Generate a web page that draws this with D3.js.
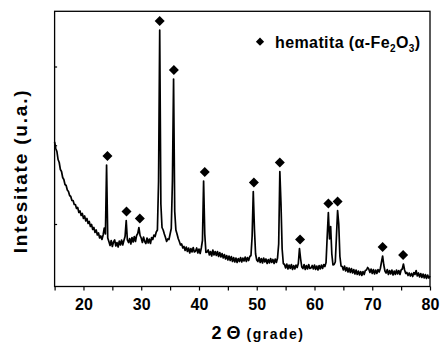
<!DOCTYPE html>
<html>
<head>
<meta charset="utf-8">
<script src="https://cdn.jsdelivr.net/npm/d3@7"></script>
<style>
  body { margin: 0; background: #fff; }
  svg { display: block; }
  text { font-family: "Liberation Sans", Arial, sans-serif; font-weight: bold; fill: #000; }
</style>
</head>
<body>
<script>
// XRD scan: intensity (a.u.) sampled every 0.2 degrees 2θ, from 15 to 80
const angleStart = 15;
const angleStep = 0.2;
const intensity = [
  578, 552, 540, 508, 496, 468, 460, 436, 428, 408,
  404, 386, 380, 364, 360, 344, 344, 328, 328, 312,
  316, 296, 302, 284, 292, 272, 282, 262, 272, 252,
  260, 240, 248, 228, 236, 216, 226, 206, 214, 194,
  202, 188, 206, 234, 210, 486, 194, 180, 164, 184,
  160, 178, 186, 162, 176, 158, 182, 166, 186, 166,
  184, 200, 264, 186, 176, 192, 170, 196, 178, 200,
  180, 204, 212, 236, 204, 194, 176, 198, 180, 172,
  194, 174, 190, 172, 196, 188, 206, 200, 218, 226,
  420, 1026, 330, 236, 226, 210, 196, 180, 190, 188,
  210, 232, 420, 830, 300, 226, 210, 192, 180, 166,
  170, 154, 160, 144, 158, 140, 154, 134, 152, 138,
  156, 138, 142, 154, 134, 150, 132, 154, 184, 422,
  210, 136, 138, 146, 126, 140, 122, 146, 126, 140,
  124, 140, 120, 136, 118, 132, 114, 128, 110, 124,
  106, 122, 104, 120, 100, 116, 98, 114, 96, 112,
  100, 116, 98, 114, 102, 118, 100, 116, 104, 120,
  124, 200, 380, 230, 130, 106, 100, 116, 96, 112,
  94, 114, 98, 110, 92, 108, 94, 112, 96, 108,
  92, 110, 96, 114, 170, 460, 330, 150, 92, 88,
  74, 90, 70, 86, 72, 88, 68, 84, 70, 86,
  76, 92, 152, 110, 78, 72, 88, 68, 84, 70,
  88, 72, 74, 84, 70, 86, 68, 82, 66, 84,
  70, 86, 72, 88, 80, 96, 200, 296, 190, 240,
  130, 86, 88, 98, 200, 304, 250, 120, 82, 80,
  66, 82, 62, 76, 58, 74, 56, 72, 54, 68,
  50, 66, 48, 62, 46, 60, 44, 60, 48, 64,
  66, 76, 70, 56, 70, 52, 68, 50, 66, 52,
  68, 58, 72, 98, 122, 86, 62, 54, 68, 48,
  64, 50, 66, 46, 62, 48, 66, 50, 64, 48,
  66, 70, 90, 66, 52, 56, 44, 54, 42, 52,
  40, 56, 48, 64, 42, 54, 38, 52, 36, 50,
  34, 48, 32, 46, 34, 42
];

// Reflections indexed to hematite (2θ positions)
const peakAngles = [24.15, 27.45, 29.75, 33.2, 35.65, 41.0, 49.5, 54.0, 57.5, 62.4, 64.0, 71.8, 75.35];

const xTicks = [15, 20, 25, 30, 35, 40, 45, 50, 55, 60, 65, 70, 75, 80];
const xTickLabels = [20, 30, 40, 50, 60, 70, 80];
const yTicks = [250, 565, 880];

const width = 441, height = 343;
const plot = { left: 54.6, right: 430, top: 11.3, bottom: 286.5 };

const svg = d3.select("body").append("svg")
  .attr("width", width).attr("height", height);

const x = d3.scaleLinear().domain([15, 80]).range([plot.left, plot.right]);
const y = d3.scaleLinear().domain([0, 1100]).range([plot.bottom, plot.top + 0.2]);

const scan = intensity.map((v, i) => ({ angle: angleStart + i * angleStep, value: v }));

// Diffraction pattern
svg.append("path")
  .datum(scan)
  .attr("fill", "none")
  .attr("stroke", "#000")
  .attr("stroke-width", 1.7)
  .attr("stroke-linejoin", "round")
  .attr("d", d3.line().x(d => x(d.angle)).y(d => y(d.value)));

// Bottom axis: outward ticks every 5 degrees, labels every 10
const xAxis = svg.append("g")
  .attr("transform", `translate(0,${plot.bottom})`)
  .call(d3.axisBottom(x)
    .tickValues(xTicks)
    .tickSize(4)
    .tickPadding(8.5)
    .tickFormat(d => xTickLabels.includes(d) ? d : ""));
xAxis.select(".domain").remove();
xAxis.selectAll(".tick line").attr("stroke", "#000").attr("stroke-width", 1.2);
xAxis.selectAll(".tick text")
  .style("font-family", '"Liberation Sans", Arial, sans-serif')
  .style("font-weight", "bold")
  .style("font-size", "16px")
  .attr("fill", "#000");

// Left axis: short inward ticks, no labels
const yAxis = svg.append("g")
  .attr("transform", `translate(${plot.left},0)`)
  .call(d3.axisLeft(y).tickValues(yTicks).tickSize(-2.5).tickFormat(""));
yAxis.select(".domain").remove();
yAxis.selectAll(".tick line").attr("stroke", "#000").attr("stroke-width", 1.2);

// Plot frame
svg.append("rect")
  .attr("x", plot.left).attr("y", plot.top)
  .attr("width", plot.right - plot.left)
  .attr("height", plot.bottom - plot.top)
  .attr("fill", "none")
  .attr("stroke", "#000")
  .attr("stroke-width", 1.3);

// Diamond markers above each indexed reflection
const diamond = d3.symbol().type(d3.symbolSquare).size(50);
const peakTop = a => {
  const c = Math.round((a - angleStart) / angleStep);
  let best = scan[c];
  for (let k = c - 2; k <= c + 2; k++) {
    if (scan[k] && scan[k].value > best.value) best = scan[k];
  }
  return best.value;
};
svg.append("g").selectAll("path")
  .data(peakAngles)
  .join("path")
  .attr("d", diamond)
  .attr("fill", "#000")
  .attr("transform", a => `translate(${x(a)},${y(peakTop(a)) - 9}) rotate(45)`);

// Legend
svg.append("path")
  .attr("d", d3.symbol().type(d3.symbolSquare).size(34))
  .attr("fill", "#000")
  .attr("transform", "translate(260,41.7) rotate(45)");
const legend = svg.append("text")
  .attr("x", 275).attr("y", 47.5)
  .style("font-size", "16px")
  .style("letter-spacing", "0.4px");
legend.append("tspan").text("hematita (α-Fe");
legend.append("tspan").attr("dy", 4).style("font-size", "10px").text("2");
legend.append("tspan").attr("dy", -4).text("O");
legend.append("tspan").attr("dy", 4).style("font-size", "10px").text("3");
legend.append("tspan").attr("dy", -4).text(")");

// Axis titles
const xTitle = svg.append("text")
  .attr("x", 211.5).attr("y", 338.5);
xTitle.append("tspan").style("font-size", "18px").text("2 Θ");
xTitle.append("tspan").attr("dx", 6).style("font-size", "14px")
  .style("letter-spacing", "1.5px").text("(grade)");

svg.append("text")
  .attr("transform", "translate(27,171) rotate(-90)")
  .attr("text-anchor", "middle")
  .style("font-size", "19px")
  .style("letter-spacing", "1.8px")
  .text("Intesitate (u.a.)");
</script>
</body>
</html>
